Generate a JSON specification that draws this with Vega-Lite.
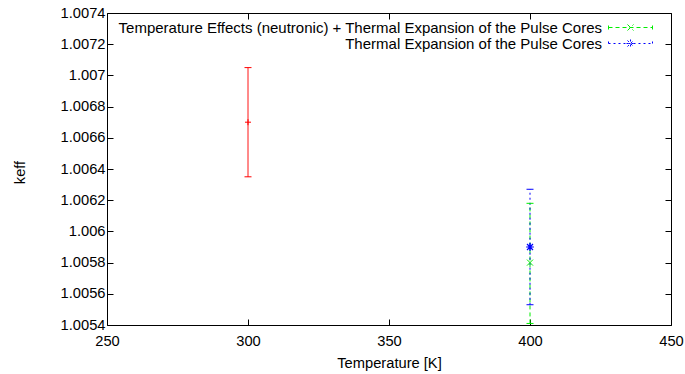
{
  "$schema": "https://vega.github.io/schema/vega-lite/v6.json",
  "width": 564,
  "height": 312,
  "autosize": "none",
  "padding": {"left": 107, "top": 13, "right": 14, "bottom": 49},
  "background": "white",
  "config": {
    "font": "Liberation Sans",
    "view": {"stroke": "#000", "strokeWidth": 1},
    "axis": {
      "grid": false, "domain": false, "tickColor": "#000", "tickSize": -6, "tickWidth": 1,
      "labelColor": "#000", "labelFontSize": 14.7, "labelFont": "Liberation Sans",
      "titleColor": "#000", "titleFontSize": 14.7, "titleFont": "Liberation Sans", "titleFontWeight": "normal",
      "labelFlush": false, "labelOverlap": false
    },
    "legend": {"labelFont": "Liberation Sans", "labelFontSize": 15, "labelColor": "#000", "labelLimit": 1000}
  },
  "data": {
    "values": [
      {"series": "Temperature Effects (neutronic)", "temp": 300, "keff": 1.0067, "lo": 1.00635, "hi": 1.00705},
      {"series": "Temperature Effects (neutronic) + Thermal Expansion of the Pulse Cores", "temp": 400, "keff": 1.0058, "lo": 1.00541, "hi": 1.00618},
      {"series": "Thermal Expansion of the Pulse Cores", "temp": 400, "keff": 1.0059, "lo": 1.00553, "hi": 1.00627}
    ]
  },
  "resolve": {"axis": {"x": "independent", "y": "independent"}},
  "layer": [
    {
      "mark": {"type": "rule", "strokeWidth": 1},
      "encoding": {
        "x": {"field": "temp", "type": "quantitative",
          "scale": {"domain": [250, 450], "nice": false, "zero": false},
          "axis": {"orient": "bottom", "values": [250, 300, 350, 400, 450], "title": "Temperature [K]", "labelPadding": 14, "titlePadding": 8}},
        "y": {"field": "lo", "type": "quantitative",
          "scale": {"domain": [1.0054, 1.0074], "nice": false, "zero": false},
          "axis": {"orient": "left", "values": [1.0054, 1.0056, 1.0058, 1.006, 1.0062, 1.0064, 1.0066, 1.0068, 1.007, 1.0072, 1.0074], "format": ".4~f", "title": "keff", "labelPadding": 8, "titleAngle": -90, "titleBaseline": "middle", "titleX": -87, "titleY": 159}},
        "y2": {"field": "hi"},
        "color": {"field": "series", "type": "nominal",
          "scale": {"domain": ["Temperature Effects (neutronic)", "Temperature Effects (neutronic) + Thermal Expansion of the Pulse Cores", "Thermal Expansion of the Pulse Cores"], "range": ["#ff0000", "#00ee00", "#0000ff"]},
          "legend": {"values": ["Temperature Effects (neutronic) + Thermal Expansion of the Pulse Cores", "Thermal Expansion of the Pulse Cores"], "title": null, "orient": "none", "legendX": 516, "legendY": 7, "padding": 0, "rowPadding": -3, "labelAlign": "right", "labelOffset": -36, "labelLimit": 1000, "symbolStrokeWidth": 1,
            "encode": {"symbols": {"update": {"opacity": {"value": 1}, "strokeOpacity": {"value": 1}}}}}},
        "strokeDash": {"field": "series", "type": "nominal",
          "scale": {"domain": ["Temperature Effects (neutronic)", "Temperature Effects (neutronic) + Thermal Expansion of the Pulse Cores", "Thermal Expansion of the Pulse Cores"], "range": [[1, 0], [4, 3], [2, 3]]}}
      }
    },
    {
      "mark": {"type": "point", "shape": "stroke", "size": 49, "filled": false, "strokeWidth": 1, "opacity": 1},
      "encoding": {
        "x": {"field": "temp", "type": "quantitative", "axis": null},
        "y": {"field": "lo", "type": "quantitative", "axis": null},
        "color": {"field": "series", "type": "nominal"}
      }
    },
    {
      "mark": {"type": "point", "shape": "stroke", "size": 49, "filled": false, "strokeWidth": 1, "opacity": 1},
      "encoding": {
        "x": {"field": "temp", "type": "quantitative", "axis": null},
        "y": {"field": "hi", "type": "quantitative", "axis": null},
        "color": {"field": "series", "type": "nominal"}
      }
    },
    {
      "transform": [{"filter": "datum.series === 'Temperature Effects (neutronic)'"}],
      "mark": {"type": "point", "shape": "M-1,0H1M0,-1V1", "size": 36, "filled": false, "strokeWidth": 1, "opacity": 1},
      "encoding": {
        "x": {"field": "temp", "type": "quantitative", "axis": null},
        "y": {"field": "keff", "type": "quantitative", "axis": null},
        "color": {"field": "series", "type": "nominal"}
      }
    },
    {
      "transform": [{"filter": "datum.series === 'Temperature Effects (neutronic) + Thermal Expansion of the Pulse Cores'"}],
      "mark": {"type": "point", "shape": "M-1,-1L1,1M-1,1L1,-1", "size": 36, "filled": false, "strokeWidth": 1, "opacity": 1},
      "encoding": {
        "x": {"field": "temp", "type": "quantitative", "axis": null},
        "y": {"field": "keff", "type": "quantitative", "axis": null},
        "color": {"field": "series", "type": "nominal"}
      }
    },
    {
      "transform": [{"filter": "datum.series === 'Thermal Expansion of the Pulse Cores'"}],
      "mark": {"type": "point", "shape": "M-1,-1L1,1M-1,1L1,-1M-1.3,0H1.3M0,-1.3V1.3", "size": 36, "filled": false, "strokeWidth": 1.2, "opacity": 1},
      "encoding": {
        "x": {"field": "temp", "type": "quantitative", "axis": null},
        "y": {"field": "keff", "type": "quantitative", "axis": null},
        "color": {"field": "series", "type": "nominal"}
      }
    },
    {
      "mark": {"type": "point", "size": 64, "filled": false, "strokeWidth": 1, "opacity": 0},
      "encoding": {
        "x": {"field": "temp", "type": "quantitative",
          "axis": {"orient": "top", "values": [250, 300, 350, 400, 450], "labels": false, "title": null}},
        "y": {"field": "keff", "type": "quantitative",
          "axis": {"orient": "right", "values": [1.0054, 1.0056, 1.0058, 1.006, 1.0062, 1.0064, 1.0066, 1.0068, 1.007, 1.0072, 1.0074], "labels": false, "title": null}},
        "color": {"field": "series", "type": "nominal"},
        "shape": {"field": "series", "type": "nominal",
          "scale": {"domain": ["Temperature Effects (neutronic)", "Temperature Effects (neutronic) + Thermal Expansion of the Pulse Cores", "Thermal Expansion of the Pulse Cores"],
            "range": ["M-1,0H1M0,-1V1", "M-4.4,0H4.4M-4.4,-0.4V0.4M4.4,-0.4V0.4M-0.6,-0.6L0.6,0.6M-0.6,0.6L0.6,-0.6", "M-4.4,0H4.4M-4.4,-0.4V0.4M4.4,-0.4V0.4M-0.6,-0.6L0.6,0.6M-0.6,0.6L0.6,-0.6M-0.8,0H0.8M0,-0.8V0.8"]},
          "legend": {"values": ["Temperature Effects (neutronic) + Thermal Expansion of the Pulse Cores", "Thermal Expansion of the Pulse Cores"], "title": null, "orient": "none", "legendX": 516, "legendY": 7, "padding": 0, "rowPadding": -3, "labelAlign": "right", "labelOffset": -36, "labelLimit": 1000, "symbolStrokeWidth": 1}},
        "strokeDash": {"field": "series", "type": "nominal"}
      }
    }
  ]
}
